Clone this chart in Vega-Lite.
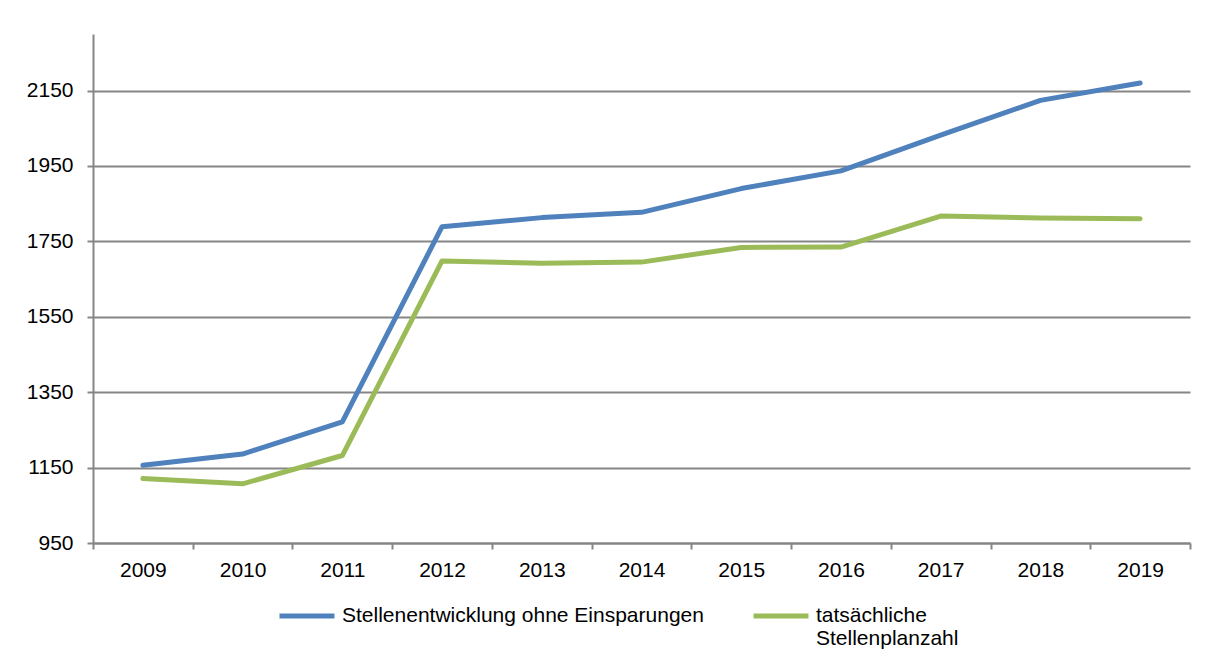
{
  "$schema": "https://vega.github.io/schema/vega-lite/v6.json",
  "width": 1097,
  "height": 509,
  "autosize": "none",
  "padding": {"left": 93, "top": 34, "right": 26, "bottom": 126},
  "background": "white",
  "config": {
    "view": {"stroke": null},
    "font": "Liberation Sans",
    "axis": {
      "labelFont": "Liberation Sans",
      "labelFontSize": 21,
      "labelColor": "#000000",
      "domainColor": "#868686",
      "domainWidth": 2,
      "tickColor": "#868686",
      "tickWidth": 2,
      "tickSize": 6,
      "gridColor": "#868686",
      "gridWidth": 2,
      "gridOpacity": 1,
      "title": null
    },
    "legend": {
      "labelFont": "Liberation Sans",
      "labelFontSize": 21,
      "labelColor": "#000000"
    }
  },
  "data": {
    "values": [
      {"year": "2009", "series": "Stellenentwicklung ohne Einsparungen", "value": 1156},
      {"year": "2010", "series": "Stellenentwicklung ohne Einsparungen", "value": 1186},
      {"year": "2011", "series": "Stellenentwicklung ohne Einsparungen", "value": 1271},
      {"year": "2012", "series": "Stellenentwicklung ohne Einsparungen", "value": 1789},
      {"year": "2013", "series": "Stellenentwicklung ohne Einsparungen", "value": 1813},
      {"year": "2014", "series": "Stellenentwicklung ohne Einsparungen", "value": 1827},
      {"year": "2015", "series": "Stellenentwicklung ohne Einsparungen", "value": 1890},
      {"year": "2016", "series": "Stellenentwicklung ohne Einsparungen", "value": 1937},
      {"year": "2017", "series": "Stellenentwicklung ohne Einsparungen", "value": 2032},
      {"year": "2018", "series": "Stellenentwicklung ohne Einsparungen", "value": 2124},
      {"year": "2019", "series": "Stellenentwicklung ohne Einsparungen", "value": 2170},
      {"year": "2009", "series": "tatsächliche Stellenplanzahl", "value": 1121},
      {"year": "2010", "series": "tatsächliche Stellenplanzahl", "value": 1107},
      {"year": "2011", "series": "tatsächliche Stellenplanzahl", "value": 1182},
      {"year": "2012", "series": "tatsächliche Stellenplanzahl", "value": 1698},
      {"year": "2013", "series": "tatsächliche Stellenplanzahl", "value": 1692},
      {"year": "2014", "series": "tatsächliche Stellenplanzahl", "value": 1695},
      {"year": "2015", "series": "tatsächliche Stellenplanzahl", "value": 1734},
      {"year": "2016", "series": "tatsächliche Stellenplanzahl", "value": 1735},
      {"year": "2017", "series": "tatsächliche Stellenplanzahl", "value": 1817},
      {"year": "2018", "series": "tatsächliche Stellenplanzahl", "value": 1812},
      {"year": "2019", "series": "tatsächliche Stellenplanzahl", "value": 1810}
    ]
  },
  "mark": {"type": "line", "strokeWidth": 5, "strokeCap": "round", "strokeJoin": "round"},
  "encoding": {
    "x": {
      "field": "year",
      "type": "ordinal",
      "scale": {"type": "band", "paddingInner": 0, "paddingOuter": 0},
      "axis": {"labelAngle": 0, "tickBand": "extent", "labelPadding": 10, "grid": false}
    },
    "y": {
      "field": "value",
      "type": "quantitative",
      "scale": {"domain": [950, 2300], "nice": false, "zero": false},
      "axis": {"values": [950, 1150, 1350, 1550, 1750, 1950, 2150], "format": "d", "labelPadding": 14, "grid": true}
    },
    "color": {
      "field": "series",
      "type": "nominal",
      "scale": {
        "domain": ["Stellenentwicklung ohne Einsparungen", "tatsächliche Stellenplanzahl"],
        "range": ["#4F81BD", "#9BBB59"]
      },
      "legend": {
        "title": null,
        "orient": "none",
        "legendX": 184,
        "legendY": 552,
        "direction": "horizontal",
        "symbolType": "stroke",
        "symbolSize": 3025,
        "symbolStrokeWidth": 5,
        "columnPadding": 39,
        "labelOffset": 5,
        "labelLimit": 500,
        "labelExpr": "datum.label == 'tatsächliche Stellenplanzahl' ? ['tatsächliche', 'Stellenplanzahl'] : [datum.label, ' ']"
      }
    }
  }
}
